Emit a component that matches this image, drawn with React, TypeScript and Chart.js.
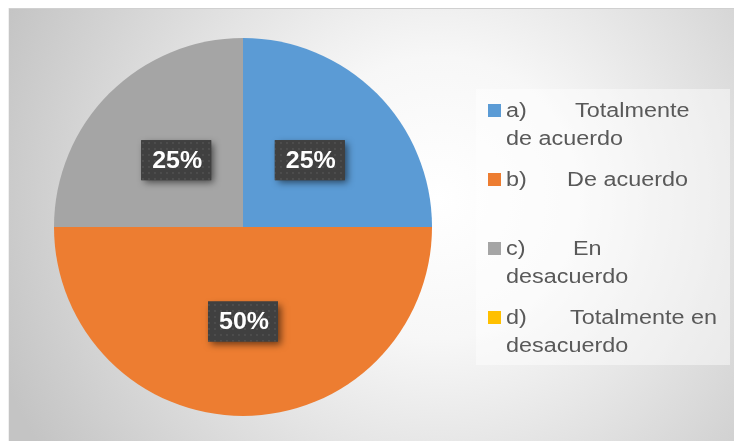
import React, { useEffect, useRef } from "react";
import { Chart, registerables } from "chart.js";

Chart.register(...registerables);

const categories = ["a)", "b)", "c)", "d)"];
const categoryNames = [
  "Totalmente de acuerdo",
  "De acuerdo",
  "En desacuerdo",
  "Totalmente en desacuerdo",
];
const legendLines = [
  ["Totalmente", "de acuerdo"],
  ["De acuerdo", ""],
  ["En", "desacuerdo"],
  ["Totalmente en", "desacuerdo"],
];
const percentValues = [25, 50, 25, 0];
const sliceColors = ["#5B9BD5", "#ED7D31", "#A5A5A5", "#FFC000"];

const W = 726;
const H = 433;
// tab stop for first line of each legend item (canvas x)
const legendTabX = [567, 559, 565, 562];

function makeDotPattern(ctx: CanvasRenderingContext2D) {
  const c = document.createElement("canvas");
  c.width = 6;
  c.height = 6;
  const p = c.getContext("2d")!;
  p.fillStyle = "#404040";
  p.fillRect(0, 0, 6, 6);
  p.fillStyle = "rgba(255,255,255,0.10)";
  p.beginPath();
  p.arc(3, 3, 0.9, 0, Math.PI * 2);
  p.fill();
  return ctx.createPattern(c, "repeat");
}

const backgroundPlugin = {
  id: "bgPlugin",
  beforeDraw(chart: any) {
    const ctx = chart.ctx as CanvasRenderingContext2D;
    ctx.save();
    const g = ctx.createRadialGradient(430, 190, 0, 430, 190, 470);
    g.addColorStop(0, "#ffffff");
    g.addColorStop(0.3, "#f7f7f7");
    g.addColorStop(1, "#c4c4c4");
    ctx.fillStyle = g;
    ctx.fillRect(0, 0, W, H);
    ctx.strokeStyle = "#d0d0d0";
    ctx.lineWidth = 1;
    ctx.beginPath();
    ctx.moveTo(0, 0.5);
    ctx.lineTo(W, 0.5);
    ctx.stroke();
    ctx.strokeStyle = "#f0f0f0";
    ctx.beginPath();
    ctx.moveTo(0.5, 0);
    ctx.lineTo(0.5, H);
    ctx.stroke();
    ctx.restore();
  },
};

const labelsPlugin = {
  id: "labelsPlugin",
  afterDraw(chart: any) {
    const ctx = chart.ctx as CanvasRenderingContext2D;
    const meta = chart.getDatasetMeta(0);
    const data = chart.data.datasets[0].data as number[];
    const total = data.reduce((a, b) => a + b, 0);
    const pattern = makeDotPattern(ctx);
    meta.data.forEach((arc: any, i: number) => {
      if (!data[i]) return;
      const pos = arc.tooltipPosition();
      const bw = 70;
      const bh = 40;
      const x = pos.x - bw / 2;
      const y = pos.y - bh / 2;
      ctx.save();
      ctx.shadowColor = "rgba(0,0,0,0.55)";
      ctx.shadowBlur = 7;
      ctx.shadowOffsetX = 3;
      ctx.shadowOffsetY = 3;
      ctx.fillStyle = "#404040";
      ctx.fillRect(x, y, bw, bh);
      ctx.restore();
      ctx.save();
      ctx.fillStyle = pattern || "#404040";
      ctx.fillRect(x, y, bw, bh);
      const txt = Math.round((data[i] / total) * 100) + "%";
      ctx.fillStyle = "#ffffff";
      ctx.font = "bold 24px 'Liberation Sans', Arial, sans-serif";
      ctx.textAlign = "center";
      ctx.textBaseline = "middle";
      ctx.translate(pos.x + 1, pos.y + 1);
      ctx.scale(1.04, 1);
      ctx.fillText(txt, 0, 0);
      ctx.restore();
    });

    // legend
    ctx.save();
    ctx.fillStyle = "rgba(255,255,255,0.45)";
    ctx.fillRect(468, 81, 254, 276);
    const lineH = 27.5;
    const gap = 14;
    let baseline = 109;
    const labels = chart.data.labels as string[];
    labels.forEach((lab: string, i: number) => {
      const lines = legendLines[i];
      ctx.fillStyle = sliceColors[i];
      ctx.fillRect(480, baseline - 13, 13, 13);
      ctx.fillStyle = "#595959";
      ctx.font = "20px 'Liberation Sans', Arial, sans-serif";
      ctx.textAlign = "left";
      ctx.textBaseline = "alphabetic";
      const drawText = (t: string, x: number, y: number) => {
        ctx.save();
        ctx.translate(x, y);
        ctx.scale(1.17, 1);
        ctx.fillText(t, 0, 0);
        ctx.restore();
      };
      drawText(categories[i], 498, baseline);
      drawText(lines[0], legendTabX[i], baseline);
      for (let k = 1; k < lines.length; k++) {
        drawText(lines[k], 498, baseline + lineH * k);
      }
      baseline += lineH * lines.length + gap;
    });
    ctx.restore();
  },
};

export default function App() {
  const ref = useRef<HTMLCanvasElement>(null);
  useEffect(() => {
    if (!ref.current) return;
    const chart = new Chart(ref.current, {
      type: "pie",
      data: {
        labels: categories.map((c, i) => c + " " + categoryNames[i]),
        datasets: [
          {
            data: percentValues,
            backgroundColor: sliceColors,
            borderWidth: 0,
          },
        ],
      },
      options: {
        responsive: false,
        animation: false,
        layout: { padding: { left: 46, right: 302, top: 30, bottom: 25 } },
        plugins: {
          legend: { display: false },
          tooltip: { enabled: false },
        },
      },
      plugins: [backgroundPlugin, labelsPlugin],
    });
    return () => chart.destroy();
  }, []);
  return (
    <div style={{ position: "fixed", left: 8, top: 8, width: W, height: H }}>
      <canvas ref={ref} width={W} height={H} style={{ display: "block" }} />
    </div>
  );
}
